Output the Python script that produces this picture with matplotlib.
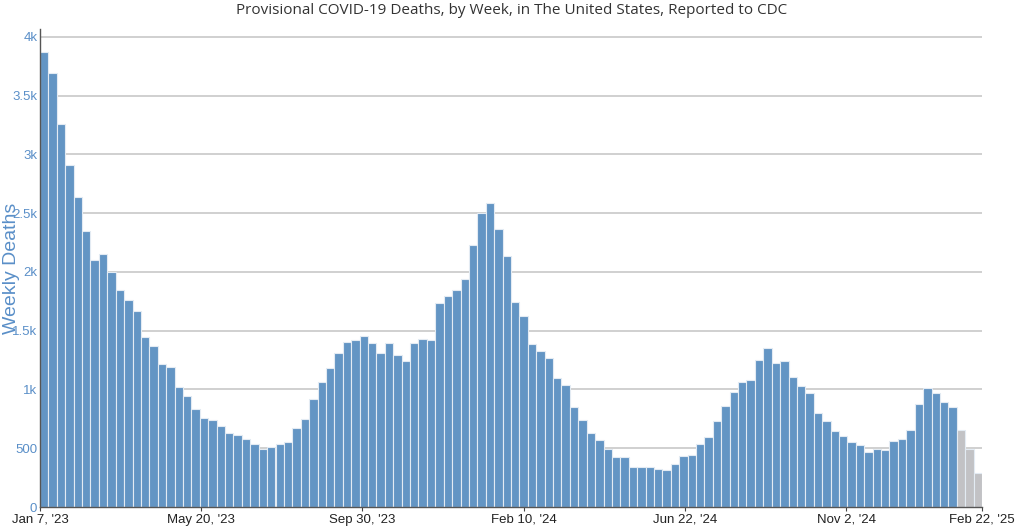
import matplotlib
matplotlib.use("Agg")
import matplotlib.pyplot as plt
import numpy as np
import pandas as pd

# weekly deaths, week ending Jan 7 '23 .. Feb 22 '25
weekly_deaths = [
    3870, 3690, 3257, 2913, 2641, 2346, 2102, 2151, 1998, 1847,
    1759, 1666, 1447, 1370, 1214, 1194, 1024, 945, 837, 757,
    740, 692, 632, 613, 579, 539, 494, 508, 539, 551,
    670, 749, 919, 1064, 1186, 1313, 1407, 1418, 1455, 1398,
    1313, 1393, 1294, 1245, 1393, 1430, 1424, 1733, 1796, 1847,
    1938, 2230, 2499, 2585, 2366, 2136, 1745, 1623, 1390, 1325,
    1265, 1100, 1041, 849, 738, 630, 570, 497, 426, 426,
    338, 338, 343, 326, 315, 366, 437, 445, 533, 596,
    732, 862, 981, 1064, 1083, 1251, 1353, 1228, 1239, 1103,
    1030, 970, 803, 734, 647, 604, 553, 528, 471, 490,
    488, 558, 581, 658, 873, 1013, 970, 896, 851, 658,
    496, 286,
]
n_incomplete = 3  # last weeks still being reported (grey)

week_dates = pd.date_range("2023-01-07", periods=len(weekly_deaths), freq="7D")
tick_dates = pd.to_datetime(["2023-01-07", "2023-05-20", "2023-09-30",
                             "2024-02-10", "2024-06-22", "2024-11-02", "2025-02-22"])
tick_labels = ["Jan 7, '23", "May 20, '23", "Sep 30, '23", "Feb 10, '24",
               "Jun 22, '24", "Nov 2, '24", "Feb 22, '25"]
y_ticks = [0, 500, 1000, 1500, 2000, 2500, 3000, 3500, 4000]
y_tick_labels = ["0", "500", "1k", "1.5k", "2k", "2.5k", "3k", "3.5k", "4k"]

blue = "#6395c4"
grey = "#c2c2c5"
label_blue = "#5a8fc8"

n = len(weekly_deaths)
pos = np.arange(n) + 0.5
colors = [blue] * (n - n_incomplete) + [grey] * n_incomplete

# ticks: the date axis runs linearly from first to last week over n bar slots
span = (week_dates[-1] - week_dates[0]).days
tick_pos = [(d - week_dates[0]).days / span * n for d in tick_dates]

fig = plt.figure(figsize=(10.24, 5.28), dpi=100)
ax = fig.add_axes([40 / 1024, 1 - 507 / 528, 942 / 1024, 478 / 528])

ax.bar(pos, weekly_deaths, width=1.0, color=colors, edgecolor="#e3ebf3",
       linewidth=0.8, zorder=2)

ax.set_xlim(0, n)
ax.set_ylim(0, 4068)
ax.set_yticks(y_ticks)
ax.set_yticklabels(y_tick_labels, color=label_blue, fontsize=9.5, family="Liberation Sans")
ax.set_xticks(tick_pos)
ax.set_xticklabels(tick_labels, color="#222222", fontsize=9.5, family="Liberation Sans")
ax.tick_params(axis="y", length=0, pad=2)
ax.tick_params(axis="x", length=3, width=0.8, color="#444444", pad=2)

ax.grid(axis="y", color="#c8c8c8", linewidth=1.2, zorder=0)
ax.set_axisbelow(True)
for side in ["top", "right"]:
    ax.spines[side].set_visible(False)
ax.spines["left"].set_color("#555555")
ax.spines["bottom"].set_color("#555555")
ax.spines["left"].set_linewidth(1.0)
ax.spines["bottom"].set_linewidth(1.0)

# label sits over the tick labels, as in the original
ax.set_ylabel("Weekly Deaths", color=label_blue, fontsize=14, family="Liberation Sans")
ax.yaxis.set_label_coords(-0.021, 0.5)
fig.text(0.5, 1 - 10 / 528, "Provisional COVID-19 Deaths, by Week, in The United States, Reported to CDC",
         ha="center", va="center", fontsize=11, color="#333333", family="Open Sans")

fig.savefig("out.png", dpi=100)
